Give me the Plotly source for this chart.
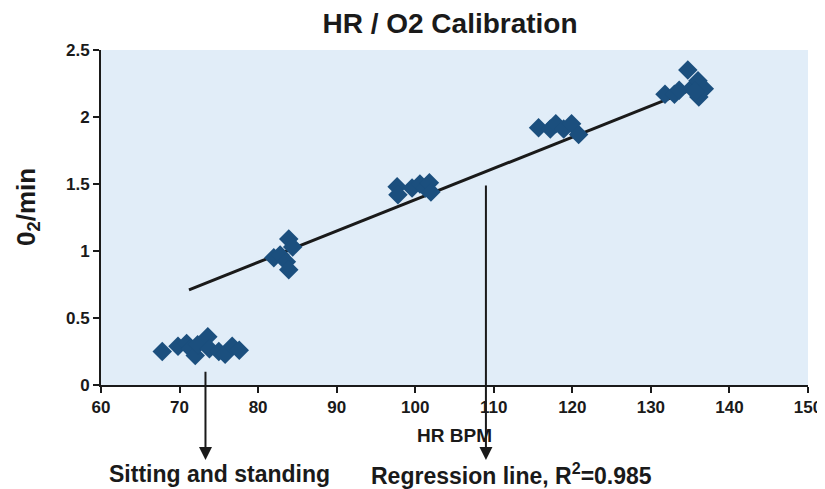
import plotly.graph_objects as go

# Data
hr_bpm = [67.8, 69.8, 70.9, 71.4, 72.0, 72.3, 73.6, 73.8, 75.0, 75.8, 76.7, 77.6,
          82.0, 82.8, 83.6, 83.9, 84.4, 83.9,
          97.7, 97.8, 99.6, 100.6, 101.3, 101.8, 102.0,
          115.7, 117.2, 117.9, 118.9, 119.9, 120.8,
          131.8, 133.0, 133.6, 134.7, 135.3, 136.0, 136.1, 136.8, 135.6]
o2_min = [0.25, 0.29, 0.31, 0.27, 0.22, 0.30, 0.36, 0.27, 0.25, 0.23, 0.29, 0.26,
          0.95, 0.97, 0.92, 1.09, 1.03, 0.86,
          1.48, 1.42, 1.47, 1.50, 1.47, 1.51, 1.44,
          1.92, 1.91, 1.95, 1.91, 1.95, 1.87,
          2.17, 2.17, 2.20, 2.35, 2.22, 2.27, 2.15, 2.21, 2.19]

reg_x = [71.2, 135.0]
reg_y = [0.71, 2.20]

x_ticks = [60, 70, 80, 90, 100, 110, 120, 130, 140, 150]
y_ticks = [0, 0.5, 1, 1.5, 2, 2.5]
y_tick_labels = ["0", "0.5", "1", "1.5", "2", "2.5"]

arrow1_x = 73.3
arrow2_x = 109.0
arrow2_top = 1.5
arrow1_top = 0.11
arrow_tip = -0.56

FONT = "Liberation Sans, Arial, sans-serif"
BLUE = "#1B4F7E"
INK = "#1a1a1a"

# The page body has an 8px default margin; the figure is sized to fit the window.
W, H = 817, 481

fig = go.Figure()
fig.add_trace(go.Scatter(
    x=reg_x, y=reg_y, mode="lines",
    line=dict(color=INK, width=3), showlegend=False, hoverinfo="skip"))
fig.add_trace(go.Scatter(
    x=hr_bpm, y=o2_min, mode="markers",
    marker=dict(symbol="diamond", size=15, color=BLUE, line=dict(width=0)),
    showlegend=False, cliponaxis=False))

# Arrows (from a point in the plot down to the notes)
for ax_x, top in [(arrow1_x, arrow1_top), (arrow2_x, arrow2_top)]:
    fig.add_annotation(
        x=ax_x, y=arrow_tip, xref="x", yref="y",
        ax=ax_x, ay=top, axref="x", ayref="y",
        text="", showarrow=True, arrowhead=2, arrowsize=1.3,
        arrowwidth=2, arrowcolor=INK)

fig.add_annotation(
    x=arrow1_x + 1.8, y=-0.266, xref="x", yref="paper",
    text="<b>Sitting and standing</b>", showarrow=False,
    font=dict(family=FONT, size=23, color=INK), yanchor="middle")
fig.add_annotation(
    x=arrow2_x + 3.3, y=-0.266, xref="x", yref="paper",
    text="<b>Regression line, R<sup>2</sup>=0.985</b>", showarrow=False,
    font=dict(family=FONT, size=23, color=INK), yanchor="middle")

# y-axis title
fig.add_annotation(
    x=-0.105, y=0.531, xref="paper", yref="paper",
    text="<b>0<sub>2</sub>/min</b>", showarrow=False, textangle=-90,
    font=dict(family=FONT, size=26, color=INK), xanchor="center", yanchor="middle")

fig.update_layout(
    width=W, height=H,
    margin=dict(l=93, r=17, t=42, b=104, autoexpand=False),
    paper_bgcolor="white",
    plot_bgcolor="#E1EDF8",
    font=dict(family=FONT, color=INK),
    title=dict(text="<b>HR / O2 Calibration</b>", x=442 / W, xanchor="center",
               y=1 - 15 / H, yanchor="middle",
               font=dict(family=FONT, size=28, color=INK)),
    xaxis=dict(
        range=[60, 150], tickvals=x_ticks, ticktext=[str(v) for v in x_ticks],
        automargin=False,
        showgrid=False, zeroline=False, showline=True, linecolor=INK, linewidth=2,
        ticks="outside", ticklen=6, tickwidth=2, tickcolor=INK,
        tickfont=dict(family=FONT, size=17, color=INK, weight="bold"),
        title=dict(text="<b>HR BPM</b>", font=dict(family=FONT, size=19, color=INK), standoff=12)),
    yaxis=dict(
        range=[0, 2.5], tickvals=y_ticks, ticktext=y_tick_labels,
        automargin=False,
        showgrid=False, zeroline=False, showline=True, linecolor=INK, linewidth=2,
        ticks="outside", ticklen=6, tickwidth=2, tickcolor=INK,
        tickfont=dict(family=FONT, size=17, color=INK, weight="bold")),
)

fig.write_html("out.html")
